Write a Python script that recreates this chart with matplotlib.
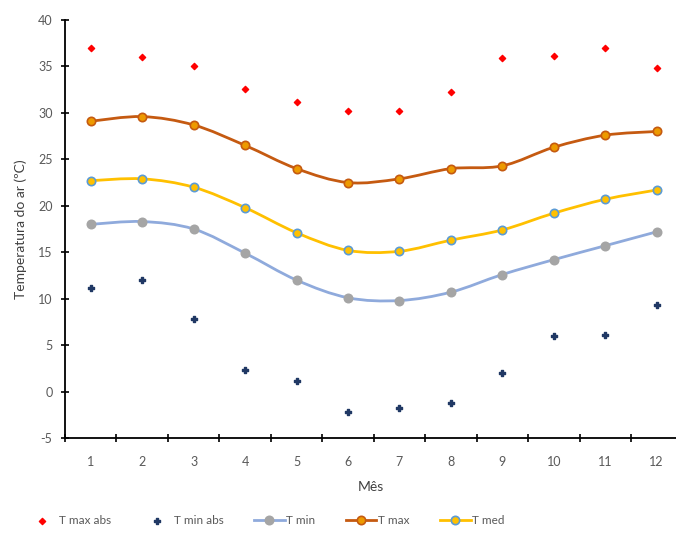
import numpy as np
import matplotlib
matplotlib.use("Agg")
import matplotlib.pyplot as plt
from matplotlib.path import Path
from matplotlib.patches import PathPatch
from matplotlib.lines import Line2D

plt.rcParams['font.family'] = ['Lato', 'DejaVu Sans']
plt.rcParams['axes.unicode_minus'] = False

months = [1, 2, 3, 4, 5, 6, 7, 8, 9, 10, 11, 12]
t_max_abs = [37.0, 36.0, 35.0, 32.6, 31.2, 30.2, 30.2, 32.2, 35.9, 36.1, 37.0, 34.8]
t_min_abs = [11.2, 12.0, 7.8, 2.3, 1.1, -2.2, -1.8, -1.2, 2.0, 6.0, 6.1, 9.3]
t_min = [18.0, 18.3, 17.5, 14.9, 12.0, 10.1, 9.8, 10.7, 12.6, 14.2, 15.7, 17.2]
t_max = [29.1, 29.6, 28.7, 26.5, 24.0, 22.5, 22.9, 24.0, 24.3, 26.3, 27.6, 28.0]
t_med = [22.7, 22.9, 22.0, 19.8, 17.1, 15.2, 15.1, 16.3, 17.4, 19.2, 20.7, 21.7]
y_ticks = [-5, 0, 5, 10, 15, 20, 25, 30, 35, 40]

fig = plt.figure(figsize=(6.76, 5.34), dpi=100)
ax = fig.add_axes([65/676, 1-438/534, 1-65/676, (438-20)/534])

def smooth_path(x, y, t=1/6):
    x = np.asarray(x, float); y = np.asarray(y, float)
    verts = [(x[0], y[0])]
    codes = [Path.MOVETO]
    n = len(x)
    for i in range(n-1):
        x0, y0 = (x[i-1], y[i-1]) if i > 0 else (x[i], y[i])
        x3, y3 = (x[i+2], y[i+2]) if i+2 < n else (x[i+1], y[i+1])
        c1 = (x[i] + (x[i+1]-x0)*t, y[i] + (y[i+1]-y0)*t)
        c2 = (x[i+1] - (x3-x[i])*t, y[i+1] - (y3-y[i])*t)
        verts += [c1, c2, (x[i+1], y[i+1])]
        codes += [Path.CURVE4]*3
    return Path(verts, codes)

series = [
    (t_min, '#8FAADC', '#A5A5A5', '#A5A5A5', 'T min'),
    (t_max, '#C55A11', '#ED9A00', '#C55A11', 'T max'),
    (t_med, '#FFC000', '#FFC000', '#5B9BD5', 'T med'),
]
handles = []
h1 = ax.scatter(months, t_max_abs, marker='D', s=10, color='#FF0000', zorder=4, label='T max abs')
h2 = ax.scatter(months, t_min_abs, marker='P', s=16, color='#203864', zorder=4, label='T min abs')
handles += [h1, h2]
for vals, lc, fc, ec, lab in series:
    ax.add_patch(PathPatch(smooth_path(months, vals), facecolor='none', edgecolor=lc, lw=2.0, zorder=2))
    ax.plot(months, vals, ls='none', marker='o', ms=6, mfc=fc, mec=ec, mew=1.2, zorder=3)
    handles.append(Line2D([], [], color=lc, lw=2.0, marker='o', ms=6, mfc=fc, mec=ec, mew=1.2, label=lab))

ax.set_xlim(0.5, 12.375)
ax.set_ylim(-5, 40)
ax.set_yticks(y_ticks)
ax.set_xticks(months)
ax.set_xticks(np.arange(0.5, 12.5, 1), minor=True)
ax.tick_params(axis='x', which='major', length=0, labelsize=9, labelcolor='#595959', pad=13)
ax.tick_params(axis='x', which='minor', length=6, direction='inout', width=1.2)
ax.tick_params(axis='y', length=6, direction='inout', width=1.2, labelsize=9, labelcolor='#595959', pad=6)
for s in ['top', 'right']:
    ax.spines[s].set_visible(False)
for s in ['left', 'bottom']:
    ax.spines[s].set_linewidth(1.3)
ax.set_xlabel('Mês', fontsize=10, color='#404040', labelpad=9)
ax.set_ylabel('Temperatura do ar (ºC)', fontsize=10, color='#404040', labelpad=8)

fig.legend(handles=handles, loc='center', bbox_to_anchor=(0.393, 1-521/534), ncol=5, frameon=False,
           fontsize=8.5, labelcolor='#595959', handlelength=2.6, columnspacing=2.6, handletextpad=0.1)

fig.savefig('out.png', dpi=100)
